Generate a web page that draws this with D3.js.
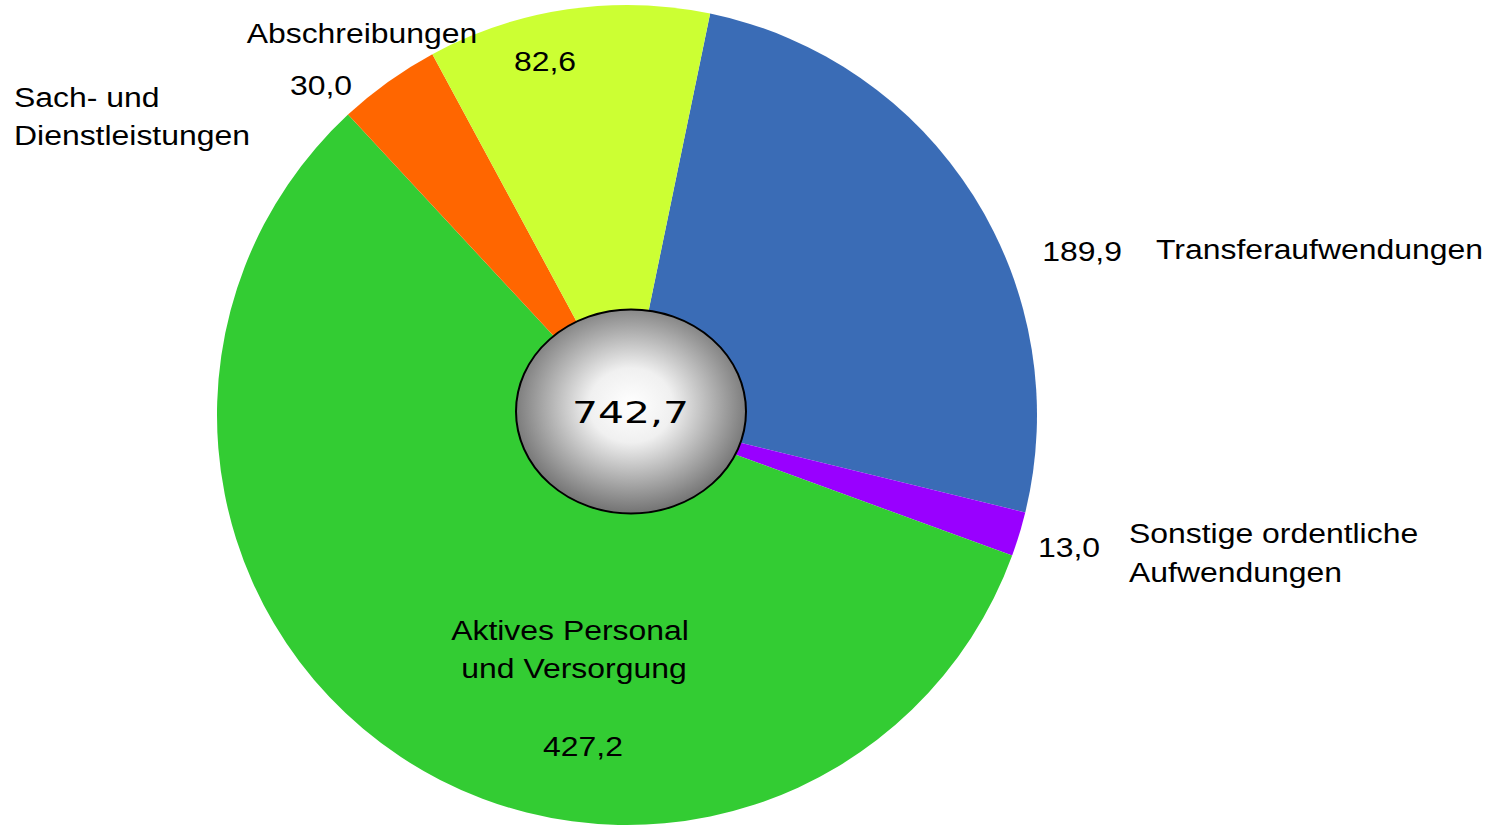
<!DOCTYPE html>
<html>
<head>
<meta charset="utf-8">
<script src="https://cdn.jsdelivr.net/npm/d3@7"></script>
<style>
  body { margin: 0; background: #fff; }
  svg { display: block; }
  text { font-family: "Liberation Sans", Arial, sans-serif; fill: #000; }
</style>
</head>
<body>
<div id="chart"></div>
<script>
// Data
const categories = [
  "Transferaufwendungen",
  "Sonstige ordentliche Aufwendungen",
  "Aktives Personal und Versorgung",
  "Sach- und Dienstleistungen",
  "Abschreibungen"
];
const values = [189.9, 13.0, 427.2, 30.0, 82.6];
const totalLabel = "742,7";

const colors = ["#3a6cb6", "#9900ff", "#33cc33", "#ff6600", "#ccff33"];

// Layout
const width = 1499;
const height = 825;
const cx = 627, cy = 415, radius = 410;

const fmt = (v) => v.toFixed(1).replace(".", ",");

const svg = d3
  .select("#chart")
  .append("svg")
  .attr("width", width)
  .attr("height", height);

// gradient for the centre disc
const grad = svg.append("defs")
  .append("radialGradient")
  .attr("id", "hole")
  .attr("cx", "50%").attr("cy", "47%").attr("r", "52%");
grad.append("stop").attr("offset", "0%").attr("stop-color", "#ffffff");
grad.append("stop").attr("offset", "35%").attr("stop-color", "#f0f0f0");
grad.append("stop").attr("offset", "100%").attr("stop-color", "#767676");

const deg = Math.PI / 180;
const pie = d3.pie()
  .sort(null)
  .startAngle(11.7 * deg)
  .endAngle(371.7 * deg);

const arc = d3.arc().innerRadius(0).outerRadius(radius);

const g = svg.append("g").attr("transform", `translate(${cx}, ${cy})`);

g.selectAll("path")
  .data(pie(values))
  .enter()
  .append("path")
  .attr("d", arc)
  .attr("fill", (d, i) => colors[i]);

// centre ellipse
svg.append("ellipse")
  .attr("cx", cx + 4)
  .attr("cy", cy - 3.5)
  .attr("rx", 115)
  .attr("ry", 102)
  .attr("fill", "url(#hole)")
  .attr("stroke", "#000")
  .attr("stroke-width", 2);

svg.append("text")
  .attr("x", 572)
  .attr("y", 423)
  .attr("textLength", 117)
  .attr("lengthAdjust", "spacingAndGlyphs")
  .style("font-family", "'DejaVu Sans', sans-serif")
  .style("font-size", "30px")
  .text(totalLabel);

// labels (name lines + value), placed like the original
const labelLayout = [
  { name: [[1156, 259, "start"]], value: [1122, 261, "end"] },
  { name: [[1129, 543, "start"], [1129, 582, "start"]], value: [1100, 557, "end"] },
  { name: [[570, 640, "middle"], [574, 678, "middle"]], value: [583, 756, "middle"] },
  { name: [[14, 107, "start"], [14, 145, "start"]], value: [321, 95, "middle"] },
  { name: [[362, 43, "middle"]], value: [545, 71, "middle"] }
];
const nameLines = [
  ["Transferaufwendungen"],
  ["Sonstige ordentliche", "Aufwendungen"],
  ["Aktives Personal", "und Versorgung"],
  ["Sach- und", "Dienstleistungen"],
  ["Abschreibungen"]
];

// the original text is slightly stretched horizontally
const addLabel = (p, str) =>
  svg.append("text")
    .attr("transform", `translate(${p[0]}, ${p[1]}) scale(1.14, 1)`)
    .attr("text-anchor", p[2])
    .style("font-size", "28px")
    .text(str);

labelLayout.forEach((l, i) => {
  nameLines[i].forEach((line, j) => addLabel(l.name[j], line));
  addLabel(l.value, fmt(values[i]));
});
</script>
</body>
</html>
